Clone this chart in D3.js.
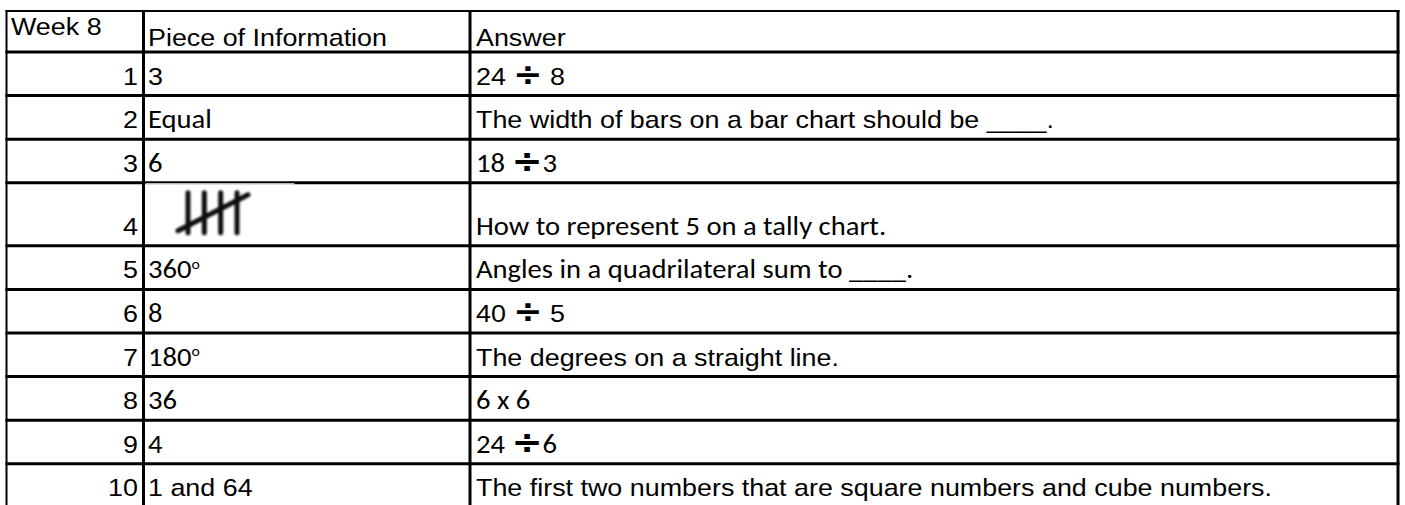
<!DOCTYPE html>
<html>
<head>
<meta charset="utf-8">
<script src="https://cdn.jsdelivr.net/npm/d3@7"></script>
<style>
  html, body { margin: 0; padding: 0; background: #fff; }
  svg { display: block; }
</style>
</head>
<body>
<svg id="sheet"></svg>
<script>
// table content
var headers = ['Week 8', 'Piece of Information', 'Answer'];
var questionNumbers = [1, 2, 3, 4, 5, 6, 7, 8, 9, 10];
// a number stands for a tally drawing of that count
var pieces = ['3', 'Equal', '6', 5, '360°', '8', '180°', '36', '4', '1 and 64'];
var answers = [
  '24 ÷ 8',
  'The width of bars on a bar chart should be ____.',
  '18 ÷3',
  'How to represent 5 on a tally chart.',
  'Angles in a quadrilateral sum to ____.',
  '40 ÷ 5',
  'The degrees on a straight line.',
  '6 x 6',
  '24 ÷6',
  'The first two numbers that are square numbers and cube numbers.'
];

// which cells were typed in the Calibri-like font
var calibriPieces = [1, 2, 4, 5, 6, 7, 8];
var calibriAnswers = [2, 3, 4, 7, 8];

var W = 1405, H = 505;
var arial = { family: '"Liberation Sans", Arial, sans-serif', size: 24, sx: 1.12 };
var calibri = { family: 'Carlito, Calibri, Lato, sans-serif', size: 26, sx: 1.1 };

var svg = d3.select('#sheet').attr('width', W).attr('height', H);

// column edges
var colX = [6.5, 143.5, 470, 1398];

// row edges from the row heights (tally row is taller)
var heights = [41].concat(pieces.map(function(p) {
  return typeof p === 'number' ? 63 : 43.6;
}));
var rowY = [11].concat(Array.from(d3.cumsum(heights), function(v) { return 11 + v; }));

function styleText(sel, font) {
  sel.attr('font-family', font.family)
    .attr('font-size', font.size)
    .attr('fill', '#000');
}

function place(sel, x, y, font) {
  sel.attr('transform', 'translate(' + x + ',' + y + ') scale(' + font.sx + ',1)');
}

// writes text, turning ÷ into a heavy sign and ° into a raised o
function writeRich(sel, str, font) {
  var parts = str.split(/([÷°])/);
  parts.forEach(function(p) {
    if (p === '÷') {
      sel.append('tspan')
        .attr('font-family', '"DejaVu Sans", sans-serif')
        .attr('font-weight', 'bold')
        .attr('font-size', font.size * 1.3)
        .text('÷');
    } else if (p === '°') {
      sel.append('tspan')
        .attr('font-size', font.size * 0.55)
        .attr('dy', -font.size * 0.38)
        .text('o');
    } else if (p.length) {
      sel.append('tspan').text(p);
    }
  });
}

var cells = svg.append('g');

// header row
var headerBase = [35, rowY[1] - 6, rowY[1] - 6];
var headerX = [11, 148, 476];
headers.forEach(function(h, i) {
  var t = cells.append('text').text(h);
  styleText(t, arial);
  place(t, headerX[i], headerBase[i], arial);
});

// tally marks: one stroke per unit, every fifth crosses the others
function drawTally(count, top, bottom) {
  var defs = svg.append('defs');
  defs.append('filter').attr('id', 'soft')
    .append('feGaussianBlur').attr('stdDeviation', 0.8);

  var strokes = Math.min(count, 4);
  var x = d3.scaleLinear().domain([0, 3]).range([188, 237]);
  var g = svg.append('g').attr('filter', 'url(#soft)')
    .attr('stroke', '#111').attr('stroke-width', 5).attr('stroke-linecap', 'round');
  g.selectAll('line.v').data(d3.range(strokes)).enter().append('line')
    .attr('class', 'v')
    .attr('x1', function(d) { return x(d); }).attr('x2', function(d) { return x(d); })
    .attr('y1', top + 10).attr('y2', bottom - 13);
  if (count >= 5) {
    g.append('line')
      .attr('x1', x(0) - 10).attr('y1', bottom - 15)
      .attr('x2', x(3) + 11).attr('y2', top + 12);
  }
}

// body rows
questionNumbers.forEach(function(n, i) {
  var bottom = rowY[i + 2];
  var base = bottom - 11;

  var num = cells.append('text').attr('text-anchor', 'end').text(n);
  styleText(num, arial);
  place(num, 138, base, arial);

  var p = pieces[i];
  if (typeof p === 'number') {
    drawTally(p, rowY[i + 1], bottom);
  } else {
    var f = calibriPieces.indexOf(i) >= 0 ? calibri : arial;
    var pt = cells.append('text');
    styleText(pt, f);
    writeRich(pt, p, f);
    place(pt, 148, base, f);
  }

  var af = calibriAnswers.indexOf(i) >= 0 ? calibri : arial;
  var at = cells.append('text');
  styleText(at, af);
  writeRich(at, answers[i], af);
  place(at, 476, base, af);
});

// grid lines
var grid = svg.append('g').attr('stroke', '#000');
grid.selectAll('line.h').data(rowY).enter().append('line')
  .attr('class', 'h')
  .attr('x1', colX[0] - 1).attr('x2', colX[3] + 1.5)
  .attr('y1', function(d) { return d; }).attr('y2', function(d) { return d; })
  .attr('stroke-width', function(d, i) { return i === 0 ? 2 : 3; });
grid.selectAll('line.v').data(colX).enter().append('line')
  .attr('class', 'v')
  .attr('x1', function(d) { return d; }).attr('x2', function(d) { return d; })
  .attr('y1', rowY[0] - 1).attr('y2', H + 5)
  .attr('stroke-width', function(d, i) { return i === 0 ? 2 : 3; });

// the pasted tally picture thins the border above it
var tallyRow = pieces.findIndex(function(p) { return typeof p === 'number'; });
svg.append('rect')
  .attr('x', 145.5).attr('y', rowY[tallyRow + 1] + 0.5)
  .attr('width', 149).attr('height', 1.2)
  .attr('fill', '#fff');
</script>
</body>
</html>
